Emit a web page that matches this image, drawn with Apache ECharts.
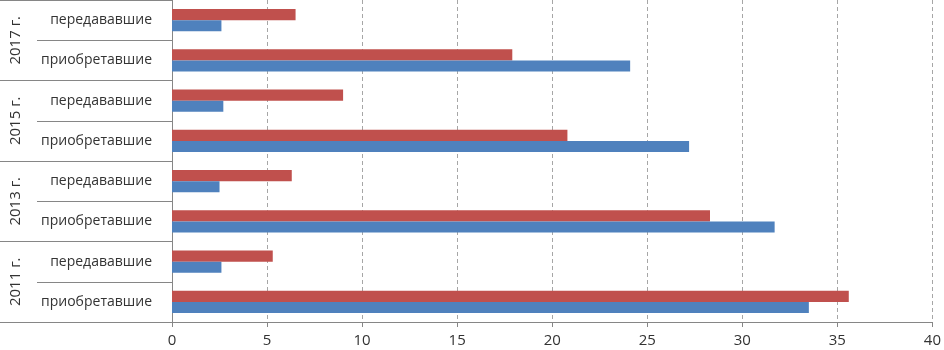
<!DOCTYPE html>
<html>
<head>
<meta charset="utf-8">
<script src="https://cdn.jsdelivr.net/npm/echarts@6/dist/echarts.min.js"></script>
<style>
html,body{margin:0;padding:0;background:#fff;overflow:hidden;}
#chart{width:944px;height:350px;}
</style>
</head>
<body>
<div id="chart"></div>
<script>
// Inner categories (bottom to top)
const innerLabels = ['приобретавшие','передававшие','приобретавшие','передававшие','приобретавшие','передававшие','приобретавшие','передававшие'];
// Outer group labels (bottom to top)
const yearLabels = ['2011 г.','2013 г.','2015 г.','2017 г.'];
// Series values (bottom to top)
const blueValues = [33.5, 2.6, 31.7, 2.5, 27.2, 2.7, 24.1, 2.6];
const redValues  = [35.6, 5.3, 28.3, 6.3, 20.8, 9.0, 17.9, 6.5];
// Value axis ticks
const xMin = 0, xMax = 40, xStep = 5;

const chart = echarts.init(document.getElementById('chart'));
const font = '"Open Sans", sans-serif';
chart.setOption({
  animation: false,
  grid: [
    {left: 172, right: 8, top: 0, bottom: 28, containLabel: false},
    {left: -3, width: 175, top: 0, bottom: 28, containLabel: false}
  ],
  xAxis: [
    {
      type: 'value', gridIndex: 0, min: xMin, max: xMax, interval: xStep,
      axisLine: {show: true, lineStyle: {color: '#868686'}},
      axisTick: {show: true, length: 5, lineStyle: {color: '#868686'}},
      axisLabel: {fontSize: 15, color: '#333333', fontFamily: font, margin: 11},
      splitLine: {show: true, lineStyle: {color: '#A6A6A6', type: [4, 3]}}
    },
    {type: 'value', gridIndex: 1, min: 0, max: 1, show: false}
  ],
  yAxis: [
    {
      type: 'category', gridIndex: 0, data: innerLabels, position: 'left',
      axisLine: {show: true, lineStyle: {color: '#868686'}},
      axisTick: {show: true, length: 135, lineStyle: {color: '#868686'}},
      axisLabel: {fontSize: 14, color: '#333333', fontFamily: font, margin: 20},
      splitLine: {show: false}
    },
    {
      type: 'category', gridIndex: 1, data: yearLabels, position: 'left',
      axisLine: {show: false},
      axisTick: {show: false},
      axisLabel: {fontSize: 15, color: '#333333', fontFamily: font, rotate: 90, inside: true, margin: 8},
      splitLine: {show: true, lineStyle: {color: '#868686'}}
    }
  ],
  series: [
    {type: 'bar', xAxisIndex: 0, yAxisIndex: 0, data: redValues, itemStyle: {color: '#C0504D'}, barGap: '0%', barCategoryGap: '45%'},
    {type: 'bar', xAxisIndex: 0, yAxisIndex: 0, data: blueValues, itemStyle: {color: '#4F81BD'}, barGap: '0%', barCategoryGap: '45%'}
  ]
});
</script>
</body>
</html>
